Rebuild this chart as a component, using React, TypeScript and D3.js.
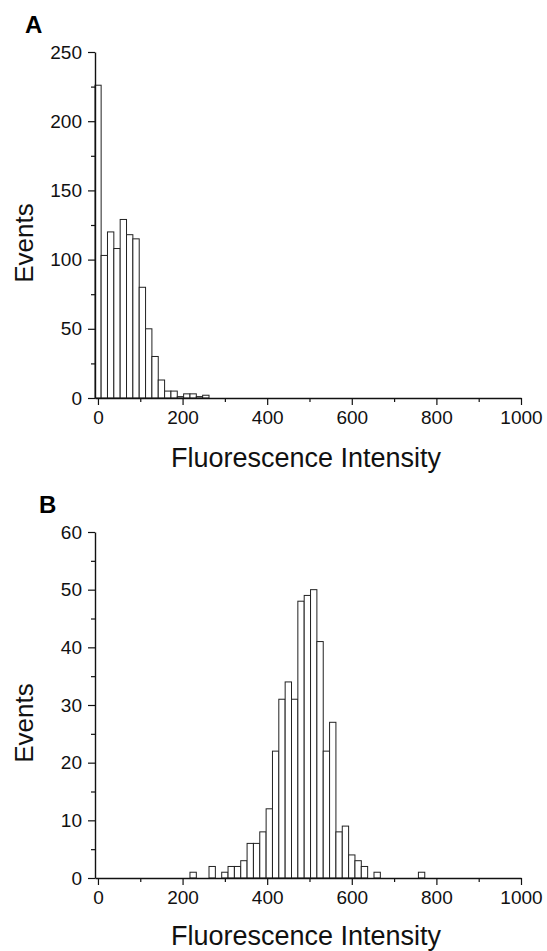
import React from "react";
import * as d3 from "d3";

// panel A histogram (bin centre, events)
const intensityA = [0, 15, 30, 45, 60, 75, 90, 105, 120, 135, 150, 165, 180, 195, 210, 225, 240, 255];
const eventsA = [226, 103, 120, 108, 129, 118, 115, 80, 50, 30, 13, 5, 5, 1, 3, 3, 1, 2];

// panel B histogram
const intensityB = [225, 270, 300, 315, 330, 345, 360, 375, 390, 405, 420, 435, 450, 465, 480, 495, 510, 525, 540, 555, 570, 585, 600, 615, 630, 660, 765];
const eventsB = [1, 2, 1, 2, 2, 3, 6, 6, 8, 12, 22, 31, 34, 31, 48, 49, 50, 41, 22, 27, 8, 9, 4, 3, 2, 1, 1];

const xTicks = [0, 200, 400, 600, 800, 1000];
const xMinorTicks = [100, 300, 500, 700, 900];
const yTicksA = [0, 50, 100, 150, 200, 250];
const yMinorA = [25, 75, 125, 175, 225];
const yTicksB = [0, 10, 20, 30, 40, 50, 60];
const yMinorB = [5, 15, 25, 35, 45, 55];

const binWidth = 15;
const font = "'Liberation Sans', Arial, sans-serif";

function drawPanel(svg, opt) {
  const left = 95;
  const right = 521;
  const x = d3.scaleLinear().domain([-7, 1000]).range([left, right]);
  const y = d3.scaleLinear().domain([0, opt.yMax]).range([opt.bottom, opt.top]);

  const g = svg.append("g");

  // bars
  g.selectAll("rect.bar")
    .data(opt.xs.map((v, i) => ({ x: v, n: opt.ns[i] })))
    .enter()
    .append("rect")
    .attr("class", "bar")
    .attr("x", (d) => Math.max(left, x(d.x - binWidth / 2)))
    .attr("width", (d) => x(d.x + binWidth / 2) - Math.max(left, x(d.x - binWidth / 2)))
    .attr("y", (d) => y(d.n))
    .attr("height", (d) => opt.bottom - y(d.n))
    .attr("fill", "#fff")
    .attr("stroke", "#222")
    .attr("stroke-width", 1);

  // x axis: minor then major
  g.append("g")
    .attr("transform", "translate(0," + opt.bottom + ")")
    .call(d3.axisBottom(x).tickValues(xMinorTicks).tickSize(4).tickSizeOuter(0).tickFormat(() => ""))
    .call((a) => a.select(".domain").remove());
  const xa = g
    .append("g")
    .attr("transform", "translate(0," + opt.bottom + ")")
    .call(d3.axisBottom(x).tickValues(xTicks).tickSize(7).tickSizeOuter(0).tickPadding(6).tickFormat(d3.format("d")));
  xa.selectAll("text").attr("font-family", font).attr("font-size", 19).attr("fill", "#111");

  // y axis
  g.append("g")
    .attr("transform", "translate(" + left + ",0)")
    .call(d3.axisLeft(y).tickValues(opt.yMinor).tickSize(4).tickSizeOuter(0).tickFormat(() => ""))
    .call((a) => a.select(".domain").remove());
  const ya = g
    .append("g")
    .attr("transform", "translate(" + left + ",0)")
    .call(d3.axisLeft(y).tickValues(opt.yTicks).tickSize(7).tickSizeOuter(0).tickPadding(6).tickFormat(d3.format("d")));
  ya.selectAll("text").attr("font-family", font).attr("font-size", 19).attr("fill", "#111");

  g.selectAll(".domain").attr("stroke", "#111").attr("stroke-width", 1.4);
  g.selectAll(".tick line").attr("stroke", "#111").attr("stroke-width", 1.2);

  // titles
  g.append("text")
    .attr("x", 306)
    .attr("y", opt.xTitleY)
    .attr("text-anchor", "middle")
    .attr("font-family", font)
    .attr("font-size", 27)
    .attr("fill", "#111")
    .text("Fluorescence Intensity");

  g.append("text")
    .attr("transform", "translate(33," + opt.yTitleY + ") rotate(-90)")
    .attr("text-anchor", "middle")
    .attr("font-family", font)
    .attr("font-size", 26)
    .attr("fill", "#111")
    .text("Events");

  g.append("text")
    .attr("x", opt.labelX)
    .attr("y", opt.labelY)
    .attr("font-family", font)
    .attr("font-weight", "bold")
    .attr("font-size", 24)
    .attr("fill", "#000")
    .text(opt.label);
}

const App = () => {
  const ref = React.useRef(null);

  React.useEffect(() => {
    const svg = d3.select(ref.current);
    svg.selectAll("*").remove();
    drawPanel(svg, {
      xs: intensityA, ns: eventsA, yMax: 250, top: 52, bottom: 398,
      yTicks: yTicksA, yMinor: yMinorA, xTitleY: 467, yTitleY: 243,
      label: "A", labelX: 25, labelY: 33,
    });
    drawPanel(svg, {
      xs: intensityB, ns: eventsB, yMax: 60, top: 532, bottom: 878,
      yTicks: yTicksB, yMinor: yMinorB, xTitleY: 945, yTitleY: 723,
      label: "B", labelX: 39, labelY: 513,
    });
  }, []);

  return (
    <svg
      ref={ref}
      width={547}
      height={951}
      style={{ position: "absolute", left: 0, top: 0, background: "#fff" }}
    />
  );
};

export default App;
